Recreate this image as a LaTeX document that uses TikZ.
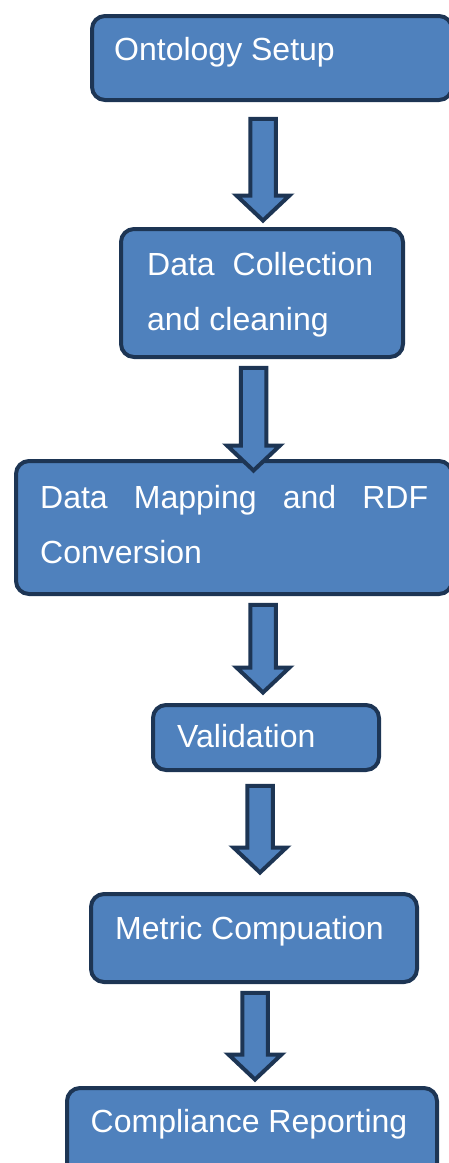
\documentclass[tikz,border=0pt]{standalone}
\usepackage{fontspec}
\setmainfont{Liberation Sans}
\usetikzlibrary{calc}

\definecolor{boxblue}{HTML}{4F81BD}
\definecolor{navy}{HTML}{1D3554}

\tikzset{
  stepbox/.style={draw=navy, fill=boxblue, line width=4pt, rounded corners=13pt, inner sep=0pt},
  steptext/.style={text=white, inner sep=0pt, anchor=base west,
    font={\fontsize{32pt}{55pt}\selectfont}},
  blockarrow/.style={draw=navy, fill=boxblue, line width=4pt}
}

\begin{document}
\begin{tikzpicture}[x=1pt, y=-1pt]
\useasboundingbox (0,0) rectangle (449,1163); % page size of the reference

% the six steps
\node[stepbox, anchor=north west, minimum width=360pt, minimum height=84pt] (setup) at (90,14) {};
\node[stepbox, anchor=north west, minimum width=282pt, minimum height=128pt] (collect) at (119,227) {};
\node[stepbox, anchor=north west, minimum width=436pt, minimum height=133pt] (mapping) at (14,459) {};
\node[stepbox, anchor=north west, minimum width=226pt, minimum height=65pt] (valid) at (151,703) {};
\node[stepbox, anchor=north west, minimum width=326pt, minimum height=88pt] (metric) at (89,892) {};
\node[stepbox, anchor=north west, minimum width=370pt, minimum height=88pt] (report) at (65,1086) {};

\node[steptext] (setuptext) at (114,60) {Ontology Setup};
\node[steptext, text width=226pt, align=justify] (collecttext) at (147,275) {Data Collection and cleaning};
\node[steptext, text width=388pt, align=justify] (mappingtext) at (40,508) {Data Mapping and RDF Conversion};
\node[steptext] (validtext) at (177,747) {Validation};
\node[steptext] (metrictext) at (115,939) {Metric Compuation};
\node[steptext] (reporttext) at (90.5,1132) {Compliance Reporting};

% block arrows between the steps
\foreach \src/\dst/\dx/\gtop/\gtip in {setup/collect/-9pt/16.75pt/6.5pt,
    collect/mapping/-8.5pt/8.75pt/-11.5pt, mapping/valid/29pt/8.75pt/10.5pt,
    valid/metric/-6pt/13.75pt/19.5pt, metric/report/1pt/8.75pt/6.5pt}
  \draw[blockarrow] let \p1 = ([xshift=\dx]\src.south), \p2 = (\dst.north) in
    (\x1-12.75pt, \y1-\gtop) -- (\x1+12.75pt, \y1-\gtop)
    -- (\x1+12.75pt, \y2+\gtip+25pt) -- (\x1+26.5pt, \y2+\gtip+25pt)
    -- (\x1, \y2+\gtip)
    -- (\x1-26.5pt, \y2+\gtip+25pt) -- (\x1-12.75pt, \y2+\gtip+25pt) -- cycle;
\end{tikzpicture}
\end{document}
